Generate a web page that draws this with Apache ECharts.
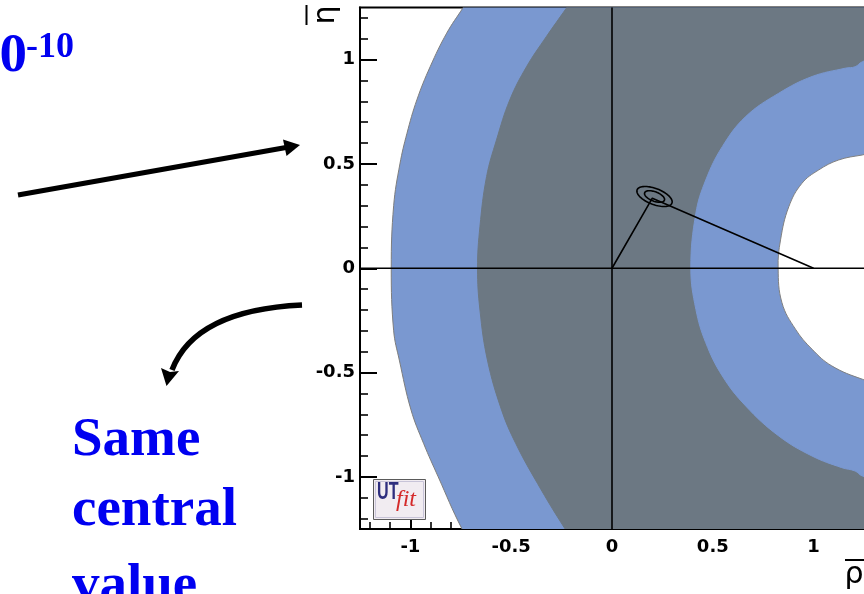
<!DOCTYPE html>
<html>
<head>
<meta charset="utf-8">
<script src="https://cdn.jsdelivr.net/npm/echarts@6/dist/echarts.min.js"></script>
<style>
html,body{margin:0;padding:0;background:#fff;}
#chart{width:864px;height:594px;}
</style>
</head>
<body>
<div id="chart"></div>
<script>
// ---- axis ranges and ticks ----
const rhoRange = [-1.25, 1.25];
const etaRange = [-1.25, 1.25];
const majorTicks = [-1, -0.5, 0, 0.5, 1];
const minorTicks = [-1.2, -1.1, -0.9, -0.8, -0.7, -0.6, -0.4, -0.3, -0.2, -0.1,
                    0.1, 0.2, 0.3, 0.4, 0.6, 0.7, 0.8, 0.9, 1.1, 1.2];

// ---- region boundaries (rho-bar, eta-bar) ----
// outer light-blue band: left edge
const outerBlueEta = [1.40, 1.246, 1.127, 0.966, 0.807, 0.647, 0.50, 0.30, 0.0, -0.30, -0.440, -0.679, -0.839, -1.000, -1.246, -1.40];
const outerBlueRho = [-0.640, -0.741, -0.820, -0.902, -0.968, -1.017, -1.052, -1.083, -1.095, -1.083, -1.055, -0.997, -0.935, -0.862, -0.746, -0.650];
// dark grey band: left edge
const greyEta = [1.40, 1.246, 1.110, 0.966, 0.807, 0.615, 0.44, 0.20, 0.0, -0.20, -0.440, -0.679, -0.839, -1.031, -1.246, -1.40];
const greyRho = [-0.115, -0.227, -0.326, -0.424, -0.507, -0.573, -0.622, -0.655, -0.667, -0.655, -0.618, -0.548, -0.478, -0.370, -0.235, -0.125];
// inner light-blue band: outer edge
const innerBlueEta = [1.00, 0.990, 0.966, 0.959, 0.919, 0.839, 0.727, 0.583, 0.423, 0.264, 0.0, -0.197, -0.357, -0.516, -0.660, -0.804, -0.900, -0.956, -0.972, -0.996, -1.00];
const innerBlueRho = [1.30, 1.242, 1.206, 1.157, 0.992, 0.827, 0.663, 0.547, 0.465, 0.416, 0.391, 0.416, 0.465, 0.547, 0.663, 0.827, 0.992, 1.140, 1.206, 1.242, 1.30];
// white hole: edge
const holeEta = [0.55, 0.543, 0.519, 0.471, 0.407, 0.295, 0.136, 0.0, -0.165, -0.292, -0.388, -0.468, -0.532, -0.54];
const holeRho = [1.30, 1.242, 1.124, 1.025, 0.942, 0.877, 0.836, 0.824, 0.843, 0.910, 0.992, 1.090, 1.242, 1.30];
// where the open bands close (off the right of the frame)
const closeRho = 1.8;
const closeEta = 1.4;

// ---- unitarity triangle and apex contours ----
const triangleRho = [0, 0.20, 1];
const triangleEta = [0, 0.336, 0];
const contourCenter = [0.211, 0.344];
const contourMajor = [[0.0864, -0.0318], [0.049, -0.018]];
const contourMinor = [[0.014, 0.0359], [0.0085, 0.021]];

// ---- crosshair lines ----
const axisLineRho = [-1.25, 1.25];
const axisLineEta = [-1.25, 1.25];

const regionFill = ['#7a98d0', '#6c7883', '#7a98d0', '#ffffff'];
const regionStroke = ['#7d7d7d', '#6c7883', '#7a98d0', '#808080'];

const regions = [
  {eta: outerBlueEta, rho: outerBlueRho, open: true},
  {eta: greyEta, rho: greyRho, open: true},
  {eta: innerBlueEta, rho: innerBlueRho, open: false},
  {eta: holeEta, rho: holeRho, open: false}
];

const chart = echarts.init(document.getElementById('chart'), null, {renderer: 'canvas'});

const labelFont = {fontFamily: 'DejaVu Sans', fontWeight: 'bold', fontSize: 18, color: '#000'};

const option = {
  animation: false,
  backgroundColor: '#ffffff',
  grid: {left: 360, top: 7.5, width: 506, height: 521.5, show: true,
         borderColor: '#000', borderWidth: 2, backgroundColor: 'transparent'},
  xAxis: [
    {type: 'value', min: rhoRange[0], max: rhoRange[1], position: 'bottom',
     axisLine: {show: true, onZero: false, lineStyle: {color: '#000', width: 2}},
     axisTick: {show: true, inside: true, length: 14, customValues: majorTicks, lineStyle: {color: '#000', width: 2}},
     axisLabel: Object.assign({show: true, margin: 9, customValues: majorTicks}, labelFont),
     splitLine: {show: false}},
    {type: 'value', min: rhoRange[0], max: rhoRange[1], position: 'bottom',
     axisLine: {show: false, onZero: false},
     axisTick: {show: true, inside: true, length: 7, customValues: minorTicks, lineStyle: {color: '#000', width: 1.6}},
     axisLabel: {show: false}, splitLine: {show: false}}
  ],
  yAxis: [
    {type: 'value', min: etaRange[0], max: etaRange[1], position: 'left',
     axisLine: {show: true, onZero: false, lineStyle: {color: '#000', width: 2}},
     axisTick: {show: true, inside: true, length: 17, customValues: majorTicks, lineStyle: {color: '#000', width: 2}},
     axisLabel: Object.assign({show: true, margin: 5, customValues: majorTicks}, labelFont),
     splitLine: {show: false}},
    {type: 'value', min: etaRange[0], max: etaRange[1], position: 'left',
     axisLine: {show: false, onZero: false},
     axisTick: {show: true, inside: true, length: 8, customValues: minorTicks, lineStyle: {color: '#000', width: 1.6}},
     axisLabel: {show: false}, splitLine: {show: false}}
  ],
  series: [
    {
      type: 'custom', name: 'regions', xAxisIndex: 0, yAxisIndex: 0, clip: true, silent: true,
      data: regions.map((r, i) => [i, 0]),
      renderItem: function (params, api) {
        const i = api.value(0);
        const r = regions[i];
        const pts = r.eta.map((e, k) => api.coord([r.rho[k], e]));
        if (r.open) {
          pts.push(api.coord([closeRho, -closeEta]));
          pts.push(api.coord([closeRho, closeEta]));
        }
        return {
          type: 'polygon',
          shape: {points: pts, smooth: 0.4},
          style: {fill: regionFill[i], stroke: regionStroke[i], lineWidth: 1}
        };
      }
    },
    {
      type: 'line', name: 'rho axis', xAxisIndex: 0, yAxisIndex: 0, silent: true,
      data: axisLineRho.map(v => [v, 0]), showSymbol: false, symbol: 'none',
      lineStyle: {color: '#000', width: 1.6}
    },
    {
      type: 'line', name: 'eta axis', xAxisIndex: 0, yAxisIndex: 0, silent: true,
      data: axisLineEta.map(v => [0, v]), showSymbol: false, symbol: 'none',
      lineStyle: {color: '#000', width: 1.6}
    },
    {
      type: 'line', name: 'triangle', xAxisIndex: 0, yAxisIndex: 0, silent: true,
      data: triangleRho.map((v, i) => [v, triangleEta[i]]), showSymbol: false, symbol: 'none',
      lineStyle: {color: '#000', width: 1.6}
    },
    {
      type: 'custom', name: 'contours', xAxisIndex: 0, yAxisIndex: 0, clip: true, silent: true,
      data: contourMajor.map((m, i) => [i, 0]),
      renderItem: function (params, api) {
        const i = api.value(0);
        const A = contourMajor[i], B = contourMinor[i];
        const pts = [];
        for (let k = 0; k <= 72; k++) {
          const t = 2 * Math.PI * k / 72;
          pts.push(api.coord([contourCenter[0] + A[0] * Math.cos(t) + B[0] * Math.sin(t),
                              contourCenter[1] + A[1] * Math.cos(t) + B[1] * Math.sin(t)]));
        }
        return {type: 'polyline', shape: {points: pts}, style: {stroke: '#000', lineWidth: 1.6, fill: null}};
      }
    }
  ],
  graphic: [
    // axis titles
    {type: 'text', x: 326, y: 15, rotation: Math.PI / 2, z: 100,
     style: {text: 'η', font: '30px "DejaVu Sans"', fill: '#000', textAlign: 'center', textVerticalAlign: 'middle'}},
    {type: 'line', z: 100, shape: {x1: 306.5, y1: 5, x2: 306.5, y2: 25}, style: {stroke: '#000', lineWidth: 2}},
    {type: 'text', x: 854, y: 575, z: 100,
     style: {text: 'ρ', font: '30px "DejaVu Sans"', fill: '#000', textAlign: 'center', textVerticalAlign: 'middle'}},
    {type: 'line', z: 100, shape: {x1: 845, y1: 560, x2: 866, y2: 560}, style: {stroke: '#000', lineWidth: 2}},
    // UTfit logo
    {type: 'rect', z: 100, shape: {x: 373.5, y: 479.5, width: 52, height: 40},
     style: {fill: '#f1ecf1', stroke: '#5a5a5a', lineWidth: 1}},
    {type: 'rect', z: 100, shape: {x: 375.5, y: 481.5, width: 48, height: 36},
     style: {fill: null, stroke: '#c8c4d8', lineWidth: 1}},
    {type: 'text', x: 377, y: 493, scaleX: 0.7, z: 101,
     style: {text: 'UT', font: 'bold 23px "Liberation Sans"', fill: '#2e2e7e', textAlign: 'left', textVerticalAlign: 'middle'}},
    {type: 'text', x: 396, y: 500, z: 101,
     style: {text: 'fit', font: 'italic 24px "Liberation Serif"', fill: '#d42a2a', textAlign: 'left', textVerticalAlign: 'middle'}},
    // slide annotation texts
    {type: 'text', x: 27, y: 57, z: 100,
     style: {text: '10', font: 'bold 55px "Liberation Serif"', fill: '#0000f0', textAlign: 'right', textVerticalAlign: 'middle'}},
    {type: 'text', x: 26, y: 48, z: 100,
     style: {text: '-10', font: 'bold 36px "Liberation Serif"', fill: '#0000f0', textAlign: 'left', textVerticalAlign: 'middle'}},
    {type: 'text', x: 72, y: 441, z: 100,
     style: {text: 'Same', font: 'bold 55px "Liberation Serif"', fill: '#0000f0', textAlign: 'left', textVerticalAlign: 'middle'}},
    {type: 'text', x: 72, y: 511, z: 100,
     style: {text: 'central', font: 'bold 55px "Liberation Serif"', fill: '#0000f0', textAlign: 'left', textVerticalAlign: 'middle'}},
    {type: 'text', x: 72, y: 587, z: 100,
     style: {text: 'value', font: 'bold 55px "Liberation Serif"', fill: '#0000f0', textAlign: 'left', textVerticalAlign: 'middle'}},
    // arrows
    {type: 'line', z: 100, shape: {x1: 18, y1: 195, x2: 286, y2: 147.5}, style: {stroke: '#000', lineWidth: 5}},
    {type: 'polygon', z: 100, shape: {points: [[300, 145], [283, 139.5], [286.5, 156]]}, style: {fill: '#000'}},
    {type: 'bezierCurve', z: 100, shape: {x1: 302, y1: 305, x2: 172, y2: 370, cpx1: 195, cpy1: 310},
     style: {stroke: '#000', lineWidth: 5.5, fill: null}},
    {type: 'polygon', z: 100, shape: {points: [[166.5, 386], [161, 368], [170, 372], [179, 371]]}, style: {fill: '#000'}}
  ]
};
chart.setOption(option);
</script>
</body>
</html>
